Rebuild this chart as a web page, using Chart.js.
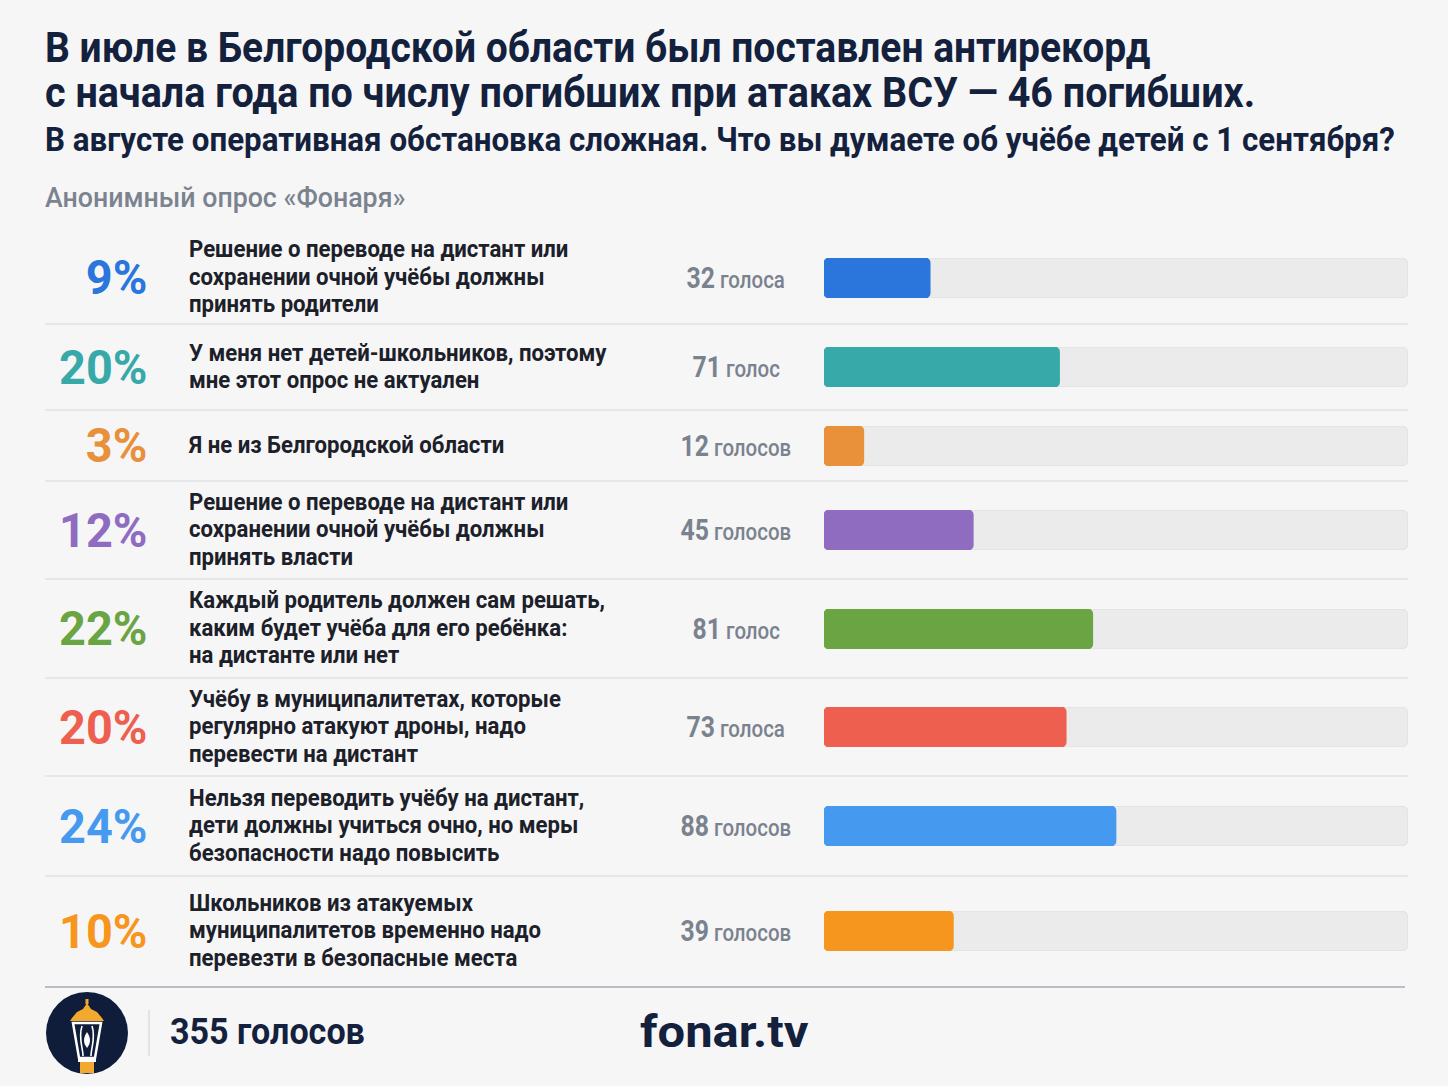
<!DOCTYPE html>
<html lang="ru">
<head>
<meta charset="UTF-8">
<title>Опрос Фонаря</title>
<script src="https://cdn.jsdelivr.net/npm/chart.js"></script>
<script>
    // данные опроса
    const answers = [
        "Решение о переводе на дистант или<br>сохранении очной учёбы должны<br>принять родители",
        "У меня нет детей-школьников, поэтому<br>мне этот опрос не актуален",
        "Я не из Белгородской области",
        "Решение о переводе на дистант или<br>сохранении очной учёбы должны<br>принять власти",
        "Каждый родитель должен сам решать,<br>каким будет учёба для его ребёнка:<br>на дистанте или нет",
        "Учёбу в муниципалитетах, которые<br>регулярно атакуют дроны, надо<br>перевести на дистант",
        "Нельзя переводить учёбу на дистант,<br>дети должны учиться очно, но меры<br>безопасности надо повысить",
        "Школьников из атакуемых<br>муниципалитетов временно надо<br>перевезти в безопасные места"
    ];
    const percents = [9, 20, 3, 12, 22, 20, 24, 10];
    const votes = [32, 71, 12, 45, 81, 73, 88, 39];
    const totalVotes = 355;
    const axisMax = 176;
</script>
<style>
    body{margin:0; background:#f6f6f7; font-family:Roboto,"Noto Sans",sans-serif; color:#14213d;}
    #page{position:relative; width:1448px; height:1086px; overflow:hidden;}
    .fit{display:inline-block; white-space:nowrap; transform-origin:left center;}
    .t{position:absolute; left:45px; margin:0; font-weight:bold; color:#14213d;}
    #t1{top:24px; font-size:42px; line-height:48px;}
    #t2{top:69px; font-size:42px; line-height:48px;}
    #t3{top:120px; font-size:33px; line-height:40px;}
    #src{position:absolute; left:45px; top:181px; font-size:28px; line-height:34px; color:#7b838f; font-weight:500;}
    #rows{position:absolute; left:45px; top:232px; width:1363px;}
    .row{display:flex; align-items:center; border-bottom:2px solid #e7e7e9; box-sizing:border-box;}
    .row:last-child{border-bottom:none;}
    .row:nth-child(1){height:93px;}
    .row:nth-child(2){height:86px;}
    .row:nth-child(3){height:71px;}
    .row:nth-child(4){height:98px;}
    .row:nth-child(5){height:99px;}
    .row:nth-child(6){height:98px;}
    .row:nth-child(7){height:100px;}
    .row:nth-child(8){height:108px;}
    .pct{width:102px; margin-right:42px; text-align:right; font-size:49px; font-weight:bold;}
    .pct .fit{transform-origin:right center;}
    .lbl{width:461px; font-size:23px; line-height:27.5px; font-weight:bold; color:#1c2029;}
    .vts{width:172px; text-align:center; color:#5b6370;}
    .vts .fit{transform-origin:center center;}
    .vts b{font-size:29px;}
    .vts span{font-size:24px; color:#7a828e; font-weight:500;}
    .bar{margin-left:2px; width:584px; height:40px;}
    #foot{position:absolute; left:45px; top:986px; width:1360px; border-top:2px solid #b9bdc5;}
    #logo{position:absolute; left:45px; top:990px;}
    #vsep{position:absolute; left:148px; top:1010px; width:2px; height:46px; background:#e2e3e6;}
    #total{position:absolute; left:170px; top:1011px; font-size:36px; font-weight:bold; color:#14213d;}
    #site{position:absolute; left:640px; top:1006px; font-size:44px; font-weight:bold; color:#14213d;}
</style>
</head>
<body>
<div id="page">
    <div class="t" id="t1"><span class="fit" data-w="1105">В июле в Белгородской области был поставлен антирекорд</span></div>
    <div class="t" id="t2"><span class="fit" data-w="1210">с начала года по числу погибших при атаках ВСУ — 46 погибших.</span></div>
    <div class="t" id="t3"><span class="fit" data-w="1350">В августе оперативная обстановка сложная. Что вы думаете об учёбе детей с 1 сентября?</span></div>
    <div id="src"><span class="fit" data-w="360">Анонимный опрос «Фонаря»</span></div>
    <div id="rows"></div>
    <div id="foot"></div>
    <svg id="logo" width="86" height="88" viewBox="0 0 86 88">
        <ellipse cx="42" cy="43" rx="41" ry="41" fill="#0f1d3b"/>
        <rect x="40.5" y="9" width="3" height="5" fill="#f3a92d"/>
        <path d="M42 13 L46 19 L52 22 L57 28 L59 31 L25 31 L27 28 L32 22 L38 19 Z" fill="#f3a92d"/>
        <path d="M28 33 L56 33 L50 68 L34 68 Z" fill="none" stroke="#ffffff" stroke-width="2.5"/>
        <path d="M37 36 C33 48 38 58 38 66" fill="none" stroke="#ffffff" stroke-width="1.6"/>
        <path d="M47 36 C51 48 46 58 46 66" fill="none" stroke="#ffffff" stroke-width="1.6"/>
        <path d="M42 42 C38 48 38 53 42 58 C46 53 46 48 42 42 Z" fill="#ffffff"/>
        <rect x="33" y="68" width="18" height="4" fill="#ffffff"/>
        <rect x="35" y="72" width="14" height="11" fill="#f3a92d"/>
    </svg>
    <div id="vsep"></div>
    <div id="total"><span class="fit" data-w="195"></span></div>
    <div id="site"><span class="fit" data-w="168">fonar.tv</span></div>
</div>
<script>
    const colors = ['#2a76dc','#36a9a8','#e8903a','#8f6cc0','#6aa443','#ee5f4f','#4599ee','#f7961f'];

    function voteWord(n){
        let d = n % 10, dd = n % 100;
        if(d==1 && dd!=11) return "голос";
        if(d>=2 && d<=4 && (dd<12 || dd>14)) return "голоса";
        return "голосов";
    }

    const rows = document.getElementById('rows');
    for(let i=0;i<answers.length;i++){
        let row = document.createElement('div');
        row.className = 'row';
        row.innerHTML = '<div class="pct" style="color:'+colors[i]+'"><span class="fit">'+percents[i]+'%</span></div>'
            +'<div class="lbl"><span class="fit">'+answers[i]+'</span></div>'
            +'<div class="vts"><span class="fit"><b>'+votes[i]+'</b> <span>'+voteWord(votes[i])+'</span></span></div>'
            +'<div class="bar"><canvas id="bar'+i+'" width="584" height="40"></canvas></div>';
        rows.appendChild(row);

        new Chart(document.getElementById('bar'+i), {
            type: 'bar',
            data: {
                labels: [i],
                datasets: [{
                    data: [votes[i]],
                    backgroundColor: colors[i],
                    borderRadius: 5,
                    borderSkipped: false,
                    grouped: false
                },{
                    data: [axisMax],
                    backgroundColor: '#ebebec',
                    borderColor: '#e2e2e4',
                    borderWidth: 1,
                    borderRadius: 6,
                    borderSkipped: false,
                    grouped: false
                }]
            },
            options: {
                indexAxis: 'y',
                responsive: false,
                animation: false,
                barPercentage: 1,
                categoryPercentage: 1,
                layout: {padding: 0},
                plugins: {legend: {display: false}, tooltip: {enabled: false}},
                scales: {
                    x: {display: false, min: 0, max: axisMax},
                    y: {display: false}
                }
            }
        });
    }
    document.querySelector('#total .fit').textContent = totalVotes + ' ' + voteWord(totalVotes);

    // сужаем шрифт до ширины как в оригинале
    function squeeze(list, target){
        let w = 0;
        list.forEach(el => { w = Math.max(w, el.offsetWidth); });
        let s = target / w;
        list.forEach(el => { el.style.transform = 'scaleX(' + s + ')'; });
    }
    document.querySelectorAll('[data-w]').forEach(el => squeeze([el], +el.dataset.w));
    squeeze(document.querySelectorAll('.lbl .fit'), 417);
    squeeze(document.querySelectorAll('.pct .fit'), 88);
    squeeze(document.querySelectorAll('.vts .fit'), 111);
</script>
</body>
</html>
